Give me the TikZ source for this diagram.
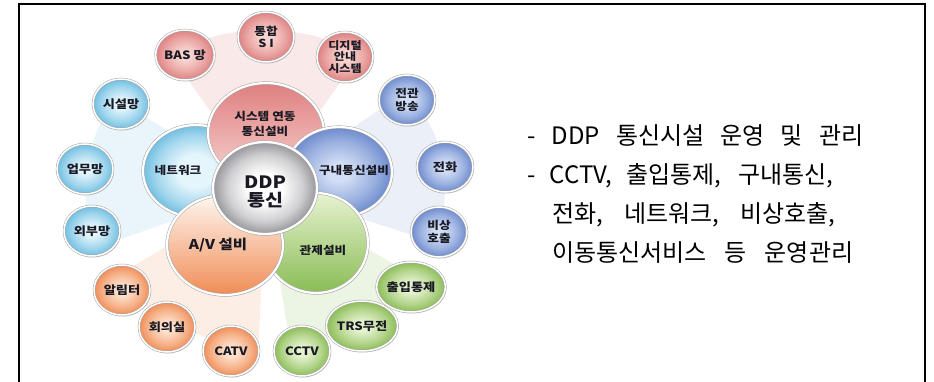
\documentclass[tikz,border=0pt]{standalone}
\usepackage{fontspec}
\newfontfamily\krR{Noto Sans CJK KR}
\newfontfamily\krS[FakeStretch=1.15]{Noto Sans CJK KR}
\usetikzlibrary{shapes.geometric,shadows}
\definecolor{txt}{RGB}{25,25,35}
\definecolor{pinkE}{RGB}{222,128,128}
\definecolor{pinkC}{RGB}{248,212,208}
\definecolor{lbE}{RGB}{110,190,225}
\definecolor{lbC}{RGB}{228,245,252}
\definecolor{blE}{RGB}{108,138,205}
\definecolor{blC}{RGB}{210,222,245}
\definecolor{orE}{RGB}{240,140,85}
\definecolor{orC}{RGB}{253,226,206}
\definecolor{grE}{RGB}{138,188,85}
\definecolor{grC}{RGB}{230,243,208}
\definecolor{ddE}{RGB}{150,150,155}
\colorlet{pinkM}{pinkC!45!pinkE}
\colorlet{lbM}{lbC!45!lbE}
\colorlet{blM}{blC!45!blE}
\colorlet{orM}{orC!45!orE}
\colorlet{grM}{grC!45!grE}
\colorlet{ddM}{white!55!ddE}
\pgfdeclareradialshading{shPink}{\pgfpointorigin}{color(0bp)=(pinkC); color(5bp)=(pinkC); color(17bp)=(pinkM); color(25bp)=(pinkE); color(50bp)=(pinkE)}
\pgfdeclareradialshading{shLB}{\pgfpointorigin}{color(0bp)=(lbC); color(5bp)=(lbC); color(17bp)=(lbM); color(25bp)=(lbE); color(50bp)=(lbE)}
\pgfdeclareradialshading{shLBbig}{\pgfpointorigin}{color(0bp)=(lbC); color(9bp)=(lbC); color(19bp)=(lbM); color(25bp)=(lbE); color(50bp)=(lbE)}
\pgfdeclareradialshading{shBL}{\pgfpointorigin}{color(0bp)=(blC); color(5bp)=(blC); color(17bp)=(blM); color(25bp)=(blE); color(50bp)=(blE)}
\pgfdeclareradialshading{shOR}{\pgfpointorigin}{color(0bp)=(orC); color(5bp)=(orC); color(17bp)=(orM); color(25bp)=(orE); color(50bp)=(orE)}
\pgfdeclareradialshading{shGR}{\pgfpointorigin}{color(0bp)=(grC); color(5bp)=(grC); color(17bp)=(grM); color(25bp)=(grE); color(50bp)=(grE)}
\pgfdeclareradialshading{shDD}{\pgfpointorigin}{color(0bp)=(white); color(8bp)=(white); color(18bp)=(ddM); color(25bp)=(ddE); color(50bp)=(ddE)}
\tikzset{
  ball/.style={ellipse, inner sep=0pt, align=center, text=txt, draw=black!35,
    line width=0.5pt, double=white, double distance=1.5pt,
    drop shadow={shadow xshift=1pt, shadow yshift=-1.5pt, opacity=0.3, fill=black!60}},
  sm/.style={ball, minimum width=56pt, minimum height=50pt,
    font=\krS\bfseries\fontsize{11.5}{12.5}\selectfont},
  two/.style={font=\krS\bfseries\fontsize{11}{12.5}\selectfont},
  three/.style={font=\krS\bfseries\fontsize{10.5}{11.6}\selectfont},
  sP/.style={sm, shade, shading=shPink},
  sL/.style={sm, shade, shading=shLB},
  sB/.style={sm, shade, shading=shBL},
  sO/.style={sm, shade, shading=shOR},
  sG/.style={sm, shade, shading=shGR},
  big/.style={ball, double distance=2.2pt},
  bl/.style={inner sep=0pt, align=center, text=txt,
    font=\krS\bfseries\fontsize{11}{15}\selectfont},
  rt/.style={inner sep=0pt, anchor=base west, text=black,
    font=\krR\fontsize{24}{28}\selectfont},
  wP/.style={fill=pinkE!17},
  wL/.style={fill=lbE!15},
  wB/.style={fill=blE!14},
  wO/.style={fill=orE!15},
  wG/.style={fill=grE!16},
}
\begin{document}
\begin{tikzpicture}[x=1pt,y=-1pt]
\useasboundingbox (0,0) rectangle (934,382);
\draw[line width=2.2pt] (19,384) -- (19,4) -- (925,4) -- (925,384);
\coordinate (ap) at (265,188);
% background wedges
\fill[wP] (ap) -- ++(-122:180 and 158) arc[start angle=-122, end angle=-58, x radius=180, y radius=158] -- cycle;
\fill[wL] (ap) -- ++(158:180 and 158) arc[start angle=158, end angle=214, x radius=180, y radius=158] -- cycle;
\fill[wB] (ap) -- ++(-38:180 and 158) arc[start angle=-38, end angle=20, x radius=180, y radius=158] -- cycle;
\fill[wO] (ap) -- ++(92:180 and 158) arc[start angle=92, end angle=146, x radius=180, y radius=158] -- cycle;
\fill[wG] (ap) -- ++(34:180 and 158) arc[start angle=34, end angle=82, x radius=180, y radius=158] -- cycle;
% outer small circles
\node[sP] (bas) at (185,55) {BAS 망};
\node[sP, two] (si) at (266,37) {통합\\S I};
\node[sP, three] (dig) at (345,57) {디지털\\안내\\시스템};
\node[sL] (sis) at (121,104) {시설망};
\node[sL] (up) at (85,169) {업무망};
\node[sL] (oe) at (92,231) {외부망};
\node[sB, two] (jg) at (407,100) {전관\\방송};
\node[sB] (jh) at (445,167) {전화};
\node[sB, two] (bs) at (439,232) {비상\\호출};
\node[sO] (al) at (122,290) {알림터};
\node[sO] (hu) at (167,327) {회의실};
\node[sO] (ca) at (231,351) {CATV};
\node[sG] (cc) at (302,351) {CCTV};
\node[sG] (trs) at (362,326) {TRS무전};
\node[sG] (ch) at (411,287) {출입통제};
% big circles
\node[big, minimum width=106pt, minimum height=92pt, shade, shading=shLBbig] (net) at (196,171) {};
\node[big, minimum width=116pt, minimum height=100pt, top color=pinkE, bottom color=pinkC] (sys) at (266,133) {};
\node[big, minimum width=106pt, minimum height=90pt, shade, shading=shBL] (inr) at (339,172) {};
\node[big, minimum width=104pt, minimum height=100pt, top color=grC, bottom color=grE] (ctl) at (316,243) {};
\node[big, minimum width=116pt, minimum height=100pt, top color=orC!30!white, bottom color=orE] (av) at (225,245) {};
\node[big, minimum width=104pt, minimum height=92pt, shade, shading=shDD] (ddp) at (265,188) {};
% big labels
\node[bl] (sysT) at (265,124) {시스템 연동\\통신설비};
\node[bl] (netT) at (178,170) {네트워크};
\node[bl] (inrT) at (354,170) {구내통신설비};
\node[bl] (ctlT) at (323,250) {관제설비};
\node[bl, font=\krS\bfseries\fontsize{13.5}{15}\selectfont] (avT) at (218,245) {A/V 설비};
\node[bl, font=\krS\bfseries\fontsize{17}{18}\selectfont] (ddpT) at (265,192) {DDP\\통신};
% right text
\node[rt] (t1) at (527,145) {\makebox[336pt][s]{- DDP 통신시설 운영 및 관리}};
\node[rt] (t2) at (527,183.7) {\makebox[306pt][s]{- CCTV, 출입통제, 구내통신,}};
\node[rt] (t3) at (552,222.4) {\makebox[283pt][s]{전화, 네트워크, 비상호출,}};
\node[rt] (t4) at (552,261) {\makebox[301pt][s]{이동통신서비스 등 운영관리}};
\end{tikzpicture}
\end{document}
